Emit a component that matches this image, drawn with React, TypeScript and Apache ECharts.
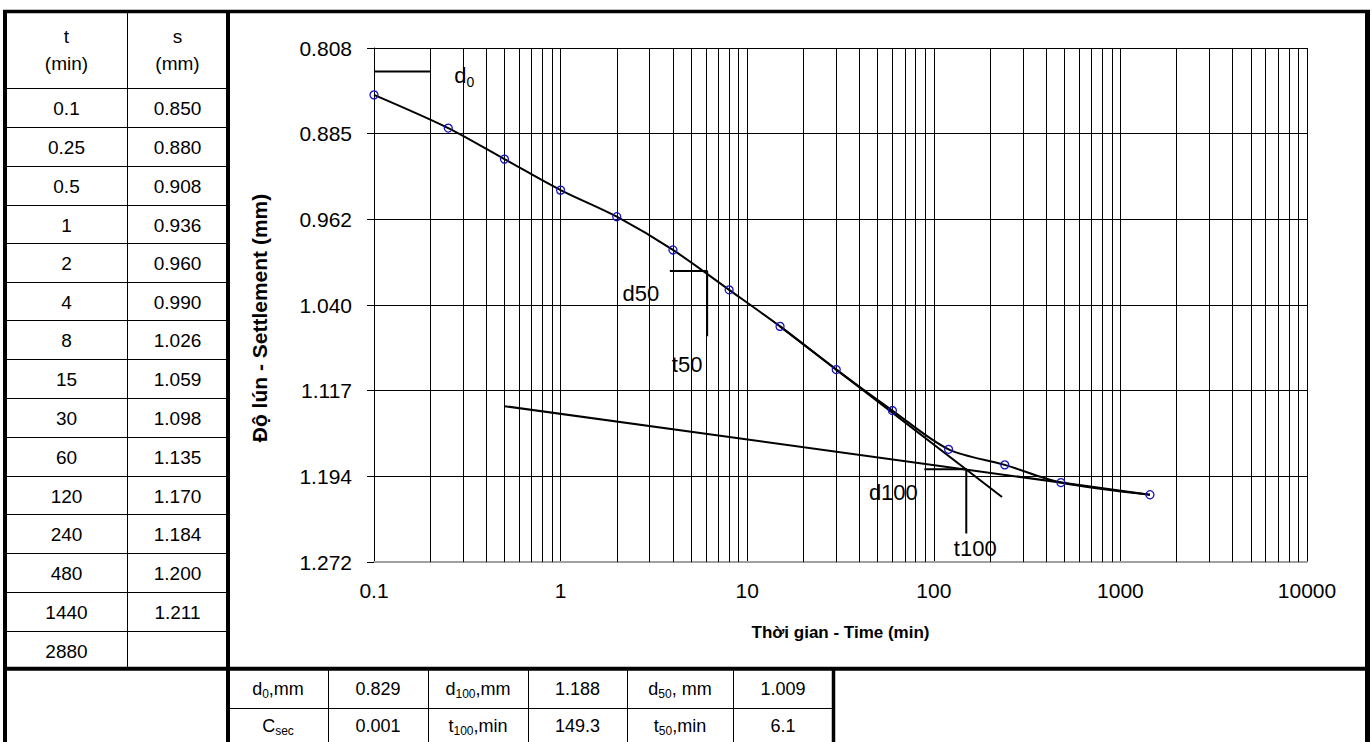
import React, { useEffect, useRef } from "react";
import * as echarts from "echarts";

// ---- data ----
const timeMin = [0.1, 0.25, 0.5, 1, 2, 4, 8, 15, 30, 60, 120, 240, 480, 1440, 2880];
const timeText = ["0.1", "0.25", "0.5", "1", "2", "4", "8", "15", "30", "60", "120", "240", "480", "1440", "2880"];
const settlement = [0.85, 0.88, 0.908, 0.936, 0.96, 0.99, 1.026, 1.059, 1.098, 1.135, 1.17, 1.184, 1.2, 1.211, null];
const settlementText = ["0.850", "0.880", "0.908", "0.936", "0.960", "0.990", "1.026", "1.059", "1.098", "1.135", "1.170", "1.184", "1.200", "1.211", ""];

const xTickLabels = ["0.1", "1", "10", "100", "1000", "10000"];
const yTickLabels = ["0.808", "0.885", "0.962", "1.040", "1.117", "1.194", "1.272"];
const yMin = 0.8077;
const yMax = 1.2717;

// construction lines (Casagrande method)
const d0Line = [[0.1, 0.829], [0.2, 0.829]];
const d50Line = [[3.85, 1.009], [6.1, 1.009], [6.1, 1.068]];
const d100Line = [[89, 1.188], [149.3, 1.188], [149.3, 1.246]];
const tangentLine = [[15, 1.059], [232, 1.213]];
const secondaryLine = [[0.5, 1.131], [1440, 1.211]];

// results table
const resultRow1 = ["{n|d}{s|0}{n|,mm}", "0.829", "{n|d}{s|100}{n|,mm}", "1.188", "{n|d}{s|50}{n|, mm}", "1.009"];
const resultRow2 = ["{n|C}{s|sec}", "0.001", "{n|t}{s|100}{n|,min}", "149.3", "{n|t}{s|50}{n|,min}", "6.1"];

const FONT = "'Liberation Sans', Arial, sans-serif";

export default function App() {
  const ref = useRef<HTMLDivElement>(null);

  useEffect(() => {
    if (!ref.current) return;
    const chart = echarts.init(ref.current, null, { renderer: "svg" });

    const minorTimes: number[] = [];
    for (let e = -1; e < 4; e++) {
      for (let m = 2; m <= 9; m++) minorTimes.push(Number((m * Math.pow(10, e)).toPrecision(3)));
    }
    const yInterval = (yMax - yMin) / 6;

    const graphic: any[] = [];
    const line = (x1: number, y1: number, x2: number, y2: number, w: number) =>
      graphic.push({ type: "line", silent: true, shape: { x1, y1, x2, y2 }, style: { stroke: "#000", lineWidth: w } });
    const text = (x: number, y: number, t: string, size = 19) =>
      graphic.push({
        type: "text",
        silent: true,
        x,
        y,
        style: {
          text: t,
          fill: "#000",
          fontFamily: FONT,
          fontSize: size,
          align: "center",
          verticalAlign: "middle",
          rich: {
            n: { fontSize: 18, fontFamily: FONT, fill: "#000" },
            s: { fontSize: 12, fontFamily: FONT, fill: "#000", padding: [10, 0, 0, 0] },
          },
        },
      });

    // frame
    line(3, 11.5, 1370, 11.5, 3.5);
    line(5, 10, 5, 742, 4);
    line(228, 10, 228, 742, 4);
    line(1367.5, 10, 1367.5, 742, 5);
    line(3, 668.7, 1370, 668.7, 4);
    // left data table
    const rowLines = [88, 127, 166, 205, 243, 282, 320, 359, 398, 437, 476, 514, 553, 592, 631, 669];
    for (let i = 0; i < rowLines.length - 1; i++) line(5, rowLines[i] + 0.5, 228, rowLines[i] + 0.5, 1);
    line(127.5, 12, 127.5, 669, 1);
    text(66.5, 36, "t");
    text(66.5, 63, "(min)");
    text(177.5, 36, "s");
    text(177.5, 63, "(mm)");
    for (let i = 0; i < timeText.length; i++) {
      const cy = (rowLines[i] + rowLines[i + 1]) / 2 + 1;
      text(66.5, cy, timeText[i]);
      text(177.5, cy, settlementText[i]);
    }
    // results table
    line(228, 708.5, 833, 708.5, 1);
    const cols = [228, 328, 428, 528, 627, 733, 833];
    for (let i = 1; i < cols.length - 1; i++) line(cols[i] + 0.5, 669, cols[i] + 0.5, 742, 1);
    line(833.5, 669, 833.5, 742, 3.5);
    for (let i = 0; i < 6; i++) {
      const cx = (cols[i] + cols[i + 1]) / 2;
      text(cx, 689, resultRow1[i], 18);
      text(cx, 726, resultRow2[i], 18);
    }

    const constructionStyle = { color: "#000", width: 2 };
    const constr = (name: string, data: number[][]) => ({
      name,
      type: "line",
      data,
      symbol: "none",
      silent: true,
      z: 4,
      lineStyle: constructionStyle,
    });

    const labelStyle = {
      show: true,
      position: "inside",
      color: "#000",
      opacity: 1,
      fontSize: 22,
      fontFamily: FONT,
      textBorderWidth: 0,
      textBorderColor: "transparent",
    };
    const ann = (pt: number[], fmt: string, offset: number[]) => ({
      value: pt,
      label: {
        ...labelStyle,
        formatter: fmt,
        offset,
        rich: {
          n: { fontSize: 22, fontFamily: FONT, color: "#000", textBorderWidth: 0 },
          s: { fontSize: 14, fontFamily: FONT, color: "#000", textBorderWidth: 0, padding: [12, 0, 0, 0] },
        },
      },
    });

    const curve = timeMin
      .map((t, i) => [t, settlement[i]])
      .filter((p) => p[1] !== null);

    chart.setOption({
      animation: false,
      backgroundColor: "#fff",
      textStyle: { fontFamily: FONT },
      graphic,
      grid: { left: 374, top: 48, right: 65, bottom: 180, containLabel: false },
      xAxis: {
        type: "log",
        logBase: 10,
        min: 0.1,
        max: 10000,
        name: "Thời gian - Time (min)",
        nameLocation: "middle",
        nameGap: 62,
        nameTextStyle: { fontSize: 17, fontWeight: "bold", color: "#000", fontFamily: FONT },
        axisLine: { show: true, lineStyle: { color: "#a0a0a0", width: 2 } },
        axisTick: { show: false },
        axisLabel: {
          color: "#000",
          fontSize: 21,
          fontFamily: FONT,
          margin: 18,
          formatter: (v: number) => xTickLabels[Math.round(Math.log10(v)) + 1] ?? "",
        },
        splitLine: { show: true, lineStyle: { color: "#000", width: 1 } },
      },
      yAxis: {
        type: "value",
        inverse: true,
        min: yMin,
        max: yMax,
        interval: yInterval,
        name: "Độ lún - Settlement (mm)",
        nameLocation: "middle",
        nameGap: 104,
        nameTextStyle: { fontSize: 21, fontWeight: "bold", color: "#000", fontFamily: FONT, padding: [0, 26, 0, 0] },
        axisLine: { show: true, lineStyle: { color: "#000", width: 1 } },
        axisTick: { show: true, length: 7, lineStyle: { color: "#000", width: 1 } },
        axisLabel: {
          color: "#000",
          fontSize: 21,
          fontFamily: FONT,
          margin: 22,
          formatter: (v: number) => yTickLabels[Math.round((v - yMin) / yInterval)] ?? "",
        },
        splitLine: { show: true, lineStyle: { color: "#000", width: 1 } },
      },
      series: [
        {
          name: "minor-grid",
          type: "line",
          data: [],
          silent: true,
          z: 1,
          markLine: {
            silent: true,
            symbol: "none",
            label: { show: false },
            animation: false,
            lineStyle: { color: "#000", width: 1, type: "solid" },
            data: minorTimes.map((t) => ({ xAxis: t })),
          },
        },
        constr("d0", d0Line),
        constr("d50", d50Line),
        constr("d100", d100Line),
        constr("tangent", tangentLine),
        constr("secondary", secondaryLine),
        {
          name: "settlement",
          type: "line",
          data: curve,
          smooth: 0.3,
          symbol: "circle",
          symbolSize: 8,
          z: 5,
          lineStyle: { color: "#000", width: 2 },
          itemStyle: { color: "rgba(0,0,0,0)", borderColor: "#1414c0", borderWidth: 1.3 },
        },
        {
          name: "labels",
          type: "scatter",
          symbolSize: 0,
          silent: true,
          z: 6,
          itemStyle: { color: "#000", opacity: 1 },
          data: [
            ann(d0Line[1], "{n|d}{s|0}", [34, 4]),
            ann(d50Line[0], "d50", [-29, 23]),
            ann(d50Line[2], "t50", [-20, 28]),
            ann(d100Line[0], "d100", [-31, 23]),
            ann(d100Line[2], "t100", [9, 15]),
          ],
        },
      ],
    });

    return () => chart.dispose();
  }, []);

  return <div ref={ref} style={{ position: "fixed", left: 0, top: 0, width: 1372, height: 742 }} />;
}
